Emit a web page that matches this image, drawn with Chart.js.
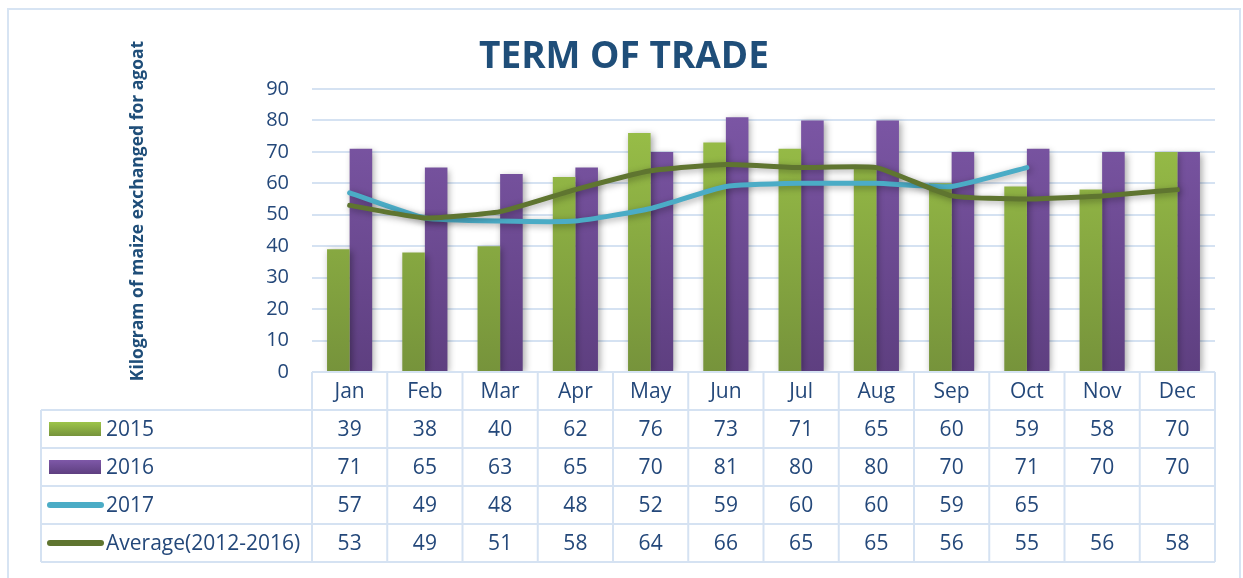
<!DOCTYPE html>
<html lang="en">
<head>
    <meta charset="UTF-8">
    <title>Term of Trade</title>
    <style>
        body, html {
            margin: 0;
            padding: 0;
            background: #ffffff;
        }
        #chart {
            display: block;
        }
    </style>
    <script src="https://cdn.jsdelivr.net/npm/chart.js"></script>
</head>
<body>
    <canvas id="chart" width="1243" height="578"></canvas>

    <script>
        // data
        const months = ['Jan', 'Feb', 'Mar', 'Apr', 'May', 'Jun', 'Jul', 'Aug', 'Sep', 'Oct', 'Nov', 'Dec'];
        const y2015 = [39, 38, 40, 62, 76, 73, 71, 65, 60, 59, 58, 70];
        const y2016 = [71, 65, 63, 65, 70, 81, 80, 80, 70, 71, 70, 70];
        const y2017 = [57, 49, 48, 48, 52, 59, 60, 60, 59, 65, null, null];
        const average = [53, 49, 51, 58, 64, 66, 65, 65, 56, 55, 56, 58];
        const yTicks = [0, 10, 20, 30, 40, 50, 60, 70, 80, 90];

        const navy = '#24487A';
        const gridBlue = '#D5E2F2';

        function vGradient(ctx, area, top, bottom) {
            if (!area) return top;
            const g = ctx.createLinearGradient(0, area.top, 0, area.bottom);
            g.addColorStop(0, top);
            g.addColorStop(1, bottom);
            return g;
        }

        // series for the table rows (label + legend key + values)
        const rows = [
            { label: '2015', values: y2015, key: 'bar', color: ['#9DC449', '#76933B'] },
            { label: '2016', values: y2016, key: 'bar', color: ['#7E58A8', '#5E3F80'] },
            { label: '2017', values: y2017, key: 'line', color: '#4BACC6' },
            { label: 'Average(2012-2016)', values: average, key: 'line', color: '#5F7530' }
        ];

        const shadowPlugin = {
            id: 'shadow',
            beforeDatasetDraw(chart) {
                const ctx = chart.ctx;
                ctx.save();
                ctx.shadowColor = 'rgba(0,0,0,0.35)';
                ctx.shadowBlur = 7;
                ctx.shadowOffsetX = 2;
                ctx.shadowOffsetY = 2;
            },
            afterDatasetDraw(chart) {
                chart.ctx.restore();
            }
        };

        const framePlugin = {
            id: 'frame',
            beforeDraw(chart) {
                const ctx = chart.ctx;
                ctx.save();
                ctx.strokeStyle = '#D7E4F3';
                ctx.lineWidth = 2;
                ctx.strokeRect(8, 9, 1232, 600);

                // title
                ctx.fillStyle = '#1F4E79';
                ctx.font = 'bold 37px "Open Sans"';
                ctx.textAlign = 'center';
                ctx.textBaseline = 'middle';
                ctx.fillText('TERM OF TRADE', 624, 57);

                // y axis title
                ctx.translate(138, 211);
                ctx.rotate(-Math.PI / 2);
                ctx.font = 'bold 17.5px "Open Sans"';
                ctx.fillStyle = '#1F4E79';
                ctx.fillText('Kilogram of maize exchanged for agoat', 0, 0);
                ctx.restore();
            }
        };

        const tablePlugin = {
            id: 'dataTable',
            afterDraw(chart) {
                const ctx = chart.ctx;
                const area = chart.chartArea;
                const x = chart.scales.x;
                const colW = (area.right - area.left) / months.length;
                const rowH = 38;
                const top = area.bottom;
                const tableLeft = 41;
                const bottom = top + rowH * (rows.length + 1);

                ctx.save();
                ctx.strokeStyle = gridBlue;
                ctx.lineWidth = 2;

                // horizontal lines
                ctx.beginPath();
                ctx.moveTo(area.left, top);
                ctx.lineTo(area.right, top);
                for (let r = 1; r <= rows.length + 1; r++) {
                    ctx.moveTo(tableLeft, top + r * rowH);
                    ctx.lineTo(area.right, top + r * rowH);
                }
                // vertical lines
                ctx.moveTo(tableLeft, top + rowH);
                ctx.lineTo(tableLeft, bottom);
                for (let c = 0; c <= months.length; c++) {
                    const cx = x.getPixelForValue(c) - colW / 2;
                    ctx.moveTo(cx, top);
                    ctx.lineTo(cx, bottom);
                }
                ctx.stroke();

                ctx.fillStyle = navy;
                ctx.font = '21px "Open Sans"';
                ctx.textAlign = 'center';
                ctx.textBaseline = 'middle';

                months.forEach((m, i) => {
                    ctx.fillText(m, x.getPixelForValue(i), top + rowH / 2 + 1);
                });

                rows.forEach((row, r) => {
                    const cy = top + rowH * (r + 1) + rowH / 2;
                    // legend key
                    if (row.key === 'bar') {
                        const g = ctx.createLinearGradient(0, cy - 7, 0, cy + 7);
                        g.addColorStop(0, row.color[0]);
                        g.addColorStop(1, row.color[1]);
                        ctx.fillStyle = g;
                        ctx.fillRect(49, cy - 7, 52, 14);
                    } else {
                        ctx.strokeStyle = row.color;
                        ctx.lineWidth = 6;
                        ctx.lineCap = 'round';
                        ctx.beginPath();
                        ctx.moveTo(50, cy);
                        ctx.lineTo(101, cy);
                        ctx.stroke();
                    }
                    ctx.fillStyle = navy;
                    ctx.textAlign = 'left';
                    ctx.fillText(row.label, 106, cy + 1);
                    ctx.textAlign = 'center';
                    row.values.forEach((v, i) => {
                        if (v !== null) ctx.fillText(String(v), x.getPixelForValue(i), cy + 1);
                    });
                });
                ctx.restore();
            }
        };

        const ctx = document.getElementById('chart').getContext('2d');
        new Chart(ctx, {
            type: 'bar',
            data: {
                labels: months,
                datasets: [
                    {
                        type: 'line',
                        label: 'Average(2012-2016)',
                        data: average,
                        borderColor: '#5F7530',
                        borderWidth: 5,
                        tension: 0.15,
                        pointRadius: 0,
                        borderCapStyle: 'round',
                        order: 0
                    },
                    {
                        type: 'line',
                        label: '2017',
                        data: y2017,
                        borderColor: '#4BACC6',
                        borderWidth: 5,
                        tension: 0.15,
                        pointRadius: 0,
                        borderCapStyle: 'round',
                        order: 1
                    },
                    {
                        label: '2015',
                        data: y2015,
                        backgroundColor: (c) => vGradient(c.chart.ctx, c.chart.chartArea, '#9DC449', '#76933B'),
                        categoryPercentage: 0.6,
                        barPercentage: 1.0,
                        order: 2
                    },
                    {
                        label: '2016',
                        data: y2016,
                        backgroundColor: (c) => vGradient(c.chart.ctx, c.chart.chartArea, '#7E58A8', '#5E3F80'),
                        categoryPercentage: 0.6,
                        barPercentage: 1.0,
                        order: 2
                    }
                ]
            },
            options: {
                responsive: false,
                animation: false,
                layout: {
                    padding: { left: 0, top: 89, right: 28, bottom: 206 }
                },
                plugins: {
                    legend: { display: false },
                    tooltip: { enabled: false }
                },
                scales: {
                    x: {
                        display: false
                    },
                    y: {
                        min: 0,
                        max: 90,
                        afterFit(scale) { scale.width = 312; },
                        afterBuildTicks(scale) { scale.ticks = yTicks.map(v => ({ value: v })); },
                        border: { display: false },
                        grid: { color: gridBlue, lineWidth: 2, drawTicks: false },
                        ticks: {
                            padding: 23,
                            color: navy,
                            font: { family: 'Open Sans', size: 20 }
                        }
                    }
                }
            },
            plugins: [framePlugin, shadowPlugin, tablePlugin]
        });
    </script>
</body>
</html>
